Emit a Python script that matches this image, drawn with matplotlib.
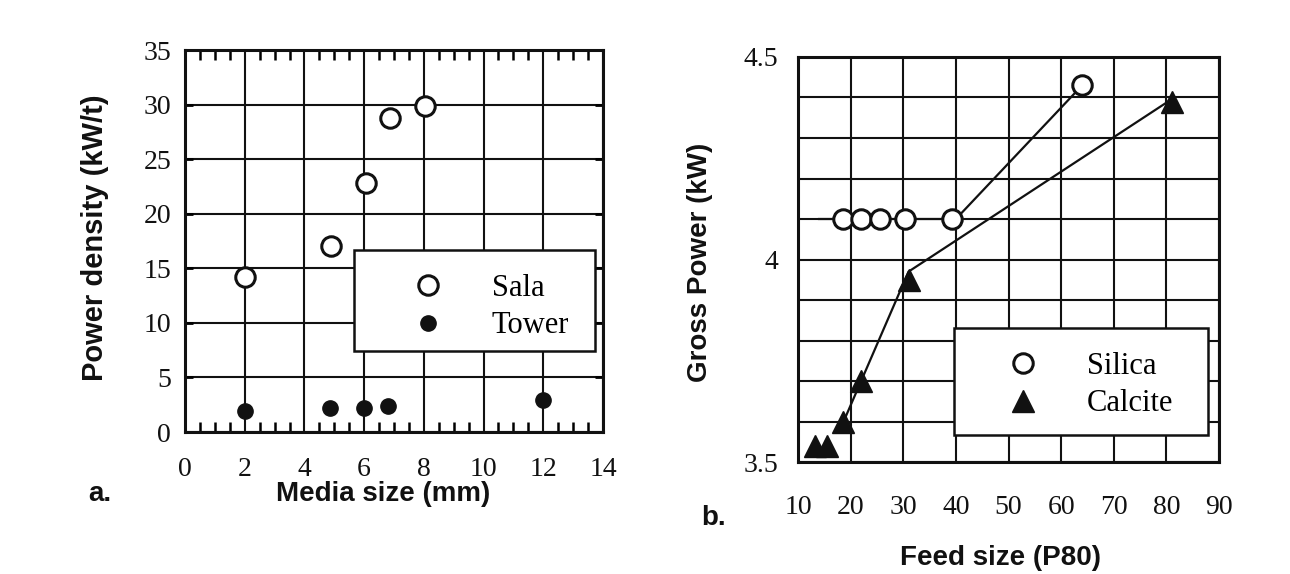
import matplotlib
matplotlib.use("Agg")
import matplotlib.pyplot as plt
from matplotlib.ticker import MultipleLocator, FuncFormatter
from matplotlib.lines import Line2D
from matplotlib.patches import Rectangle

# ---- data: panel a ----
sala_x = [2.0, 4.9, 6.05, 6.85, 8.05]
sala_y = [14.2, 17.0, 22.8, 28.8, 29.9]
tower_x = [2.0, 4.85, 6.0, 6.8, 12.0]
tower_y = [1.9, 2.2, 2.2, 2.4, 2.9]

# ---- data: panel b ----
silica_x = [18.5, 22.0, 25.5, 30.3, 39.3, 64.0]
silica_y = [4.10, 4.10, 4.10, 4.10, 4.10, 4.43]
silica_line_x = [14.0, 40.0, 64.0]
silica_line_y = [4.10, 4.10, 4.43]
calcite_x = [13.3, 15.6, 18.5, 22.0, 31.0, 81.0]
calcite_y = [3.54, 3.54, 3.60, 3.70, 3.95, 4.39]
calcite_line_x = [18.0, 22.0, 31.0, 81.5]
calcite_line_y = [3.58, 3.70, 3.97, 4.40]

W, H = 1290, 574
fig = plt.figure(figsize=(W / 100, H / 100), dpi=100)

def rect(x0, y0, x1, y1):
    return [x0 / W, 1 - y1 / H, (x1 - x0) / W, (y1 - y0) / H]

serif = "Liberation Serif"
sans = "Liberation Sans"
ink = "#111111"
tick_fs = 20
lab_fs = 20
leg_fs = 22
frame_lw = 2.2
grid_lw = 1.5

def style(ax):
    for s in ax.spines.values():
        s.set_linewidth(frame_lw)
        s.set_color(ink)
    ax.grid(True, which="major", color=ink, linewidth=grid_lw)
    ax.set_axisbelow(True)
    for lab in ax.get_xticklabels() + ax.get_yticklabels():
        lab.set_fontfamily(serif)
        lab.set_fontsize(tick_fs)
        lab.set_color(ink)

def legend_box(ax, x0, y0, x1, y1):
    r = Rectangle((x0 / W, 1 - y1 / H), (x1 - x0) / W, (y1 - y0) / H,
                  transform=fig.transFigure, facecolor="white", edgecolor=ink,
                  linewidth=1.8, zorder=4, clip_on=False)
    ax.add_patch(r)

def legend(ax, handles, labels, x_left, y_center):
    leg = ax.legend(handles, labels, loc="center left",
                    bbox_to_anchor=(x_left / W, 1 - y_center / H),
                    bbox_transform=fig.transFigure,
                    prop={"family": serif, "size": leg_fs}, frameon=False,
                    borderpad=0, borderaxespad=0, labelspacing=0.28,
                    handletextpad=1.1, handlelength=2.0)
    leg.set_zorder(5)
    return leg

# ---------------- panel a ----------------
ax1 = fig.add_axes(rect(185, 50, 603, 432))
ax1.set_xlim(0, 14)
ax1.set_ylim(0, 35)
ax1.xaxis.set_major_locator(MultipleLocator(2))
ax1.xaxis.set_minor_locator(MultipleLocator(0.5))
ax1.yaxis.set_major_locator(MultipleLocator(5))
ax1.tick_params(axis="x", which="major", direction="in", length=0, pad=18, top=False)
ax1.tick_params(axis="x", which="minor", direction="in", length=7, width=1.8, top=True, bottom=True)
ax1.tick_params(axis="y", which="major", direction="in", length=6, width=2, pad=10, right=True)
ax1.plot(sala_x, sala_y, linestyle="none", marker="o", markersize=14,
         markerfacecolor="white", markeredgecolor=ink, markeredgewidth=2.2, zorder=3)
ax1.plot(tower_x, tower_y, linestyle="none", marker="o", markersize=11,
         markerfacecolor=ink, markeredgecolor=ink, zorder=3)
style(ax1)

legend_box(ax1, 354, 250, 595, 351)
h1 = [Line2D([], [], linestyle="none", marker="o", markersize=14, markerfacecolor="white",
             markeredgecolor=ink, markeredgewidth=2.2),
      Line2D([], [], linestyle="none", marker="o", markersize=11, markerfacecolor=ink,
             markeredgecolor=ink)]
legend(ax1, h1, ["Sala", "Tower"], 397, 307)

fig.text(95 / W, 1 - 238 / H, "Power density (kW/t)", rotation=90, ha="center", va="center",
         fontfamily=sans, fontweight="bold", fontsize=lab_fs + 1, color=ink)
fig.text(383 / W, 1 - 494 / H, "Media size (mm)", ha="center", va="center",
         fontfamily=sans, fontweight="bold", fontsize=lab_fs, color=ink)
fig.text(100 / W, 1 - 494 / H, "a.", ha="center", va="center",
         fontfamily=sans, fontweight="bold", fontsize=20, color=ink)

# ---------------- panel b ----------------
ax2 = fig.add_axes(rect(798, 57, 1219, 462))
ax2.set_xlim(10, 90)
ax2.set_ylim(3.5, 4.5)
ax2.xaxis.set_major_locator(MultipleLocator(10))
ax2.yaxis.set_major_locator(MultipleLocator(0.5))
ax2.yaxis.set_minor_locator(MultipleLocator(0.1))
ax2.yaxis.set_major_formatter(FuncFormatter(lambda v, p: f"{v:g}"))
ax2.tick_params(axis="x", which="major", direction="in", length=0, pad=24)
ax2.tick_params(axis="y", which="major", direction="in", length=0, pad=14)
ax2.tick_params(axis="y", which="minor", length=0)
ax2.grid(True, which="minor", axis="y", color=ink, linewidth=grid_lw)
ax2.plot(silica_line_x, silica_line_y, color=ink, linewidth=1.6, zorder=2)
ax2.plot(calcite_line_x, calcite_line_y, color=ink, linewidth=1.6, zorder=2)
ax2.plot(silica_x, silica_y, linestyle="none", marker="o", markersize=14,
         markerfacecolor="white", markeredgecolor=ink, markeredgewidth=2.2, zorder=3)
ax2.plot(calcite_x, calcite_y, linestyle="none", marker="^", markersize=16,
         markerfacecolor=ink, markeredgecolor=ink, zorder=3)
style(ax2)

legend_box(ax2, 954, 328, 1208, 435)
h2 = [Line2D([], [], linestyle="none", marker="o", markersize=14, markerfacecolor="white",
             markeredgecolor=ink, markeredgewidth=2.2),
      Line2D([], [], linestyle="none", marker="^", markersize=16, markerfacecolor=ink,
             markeredgecolor=ink)]
legend(ax2, h2, ["Silica", "Calcite"], 992, 385)

fig.text(700 / W, 1 - 262 / H, "Gross Power (kW)", rotation=90, ha="center", va="center",
         fontfamily=sans, fontweight="bold", fontsize=lab_fs, color=ink)
fig.text(1000 / W, 1 - 558 / H, "Feed size (P80)", ha="center", va="center",
         fontfamily=sans, fontweight="bold", fontsize=lab_fs, color=ink)
fig.text(714 / W, 1 - 518 / H, "b.", ha="center", va="center",
         fontfamily=sans, fontweight="bold", fontsize=20, color=ink)

fig.savefig("out.png", dpi=100, facecolor="white")
